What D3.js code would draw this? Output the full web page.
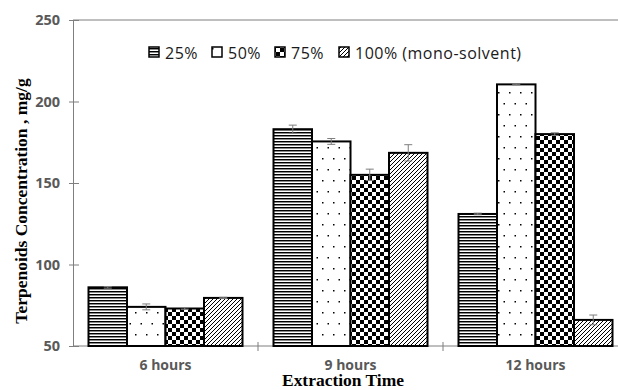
<!DOCTYPE html>
<html>
<head>
<meta charset="utf-8">
<script src="https://cdn.jsdelivr.net/npm/d3@7"></script>
<style>
  html, body { margin: 0; padding: 0; background: #fff; }
  svg { display: block; }
</style>
</head>
<body>
<svg id="chart" width="618" height="390"></svg>
<script>
// Extraction times on the x axis
const categories = ["6 hours", "9 hours", "12 hours"];
// Solvent ratios (legend entries)
const seriesNames = ["25%", "50%", "75%", "100% (mono-solvent)"];
// Terpenoids concentration, mg/g, one array per solvent ratio
const s25  = [86, 183, 131];
const s50  = [74, 175.5, 210.5];
const s75  = [73, 155, 180];
const s100 = [79.5, 168.5, 66];
// Standard-deviation error bars
const e25  = [0.5, 2.5, 0.5];
const e50  = [1.8, 1.8, 0.3];
const e75  = [0.5, 3.5, 0.8];
const e100 = [0.4, 5, 3];
const yTicks = [50, 100, 150, 200, 250];

const values = [s25, s50, s75, s100];
const errors = [e25, e50, e75, e100];

const svg = d3.select("#chart");
const plotLeft = 73, plotRight = 628, plotTop = 20, plotBottom = 346;

const x = d3.scaleBand().domain(categories).range([plotLeft, plotRight]);
const xs = d3.scaleBand().domain(seriesNames).range([15.5, x.bandwidth() - 15.5]);
const y = d3.scaleLinear().domain([50, 250]).range([plotBottom, plotTop]);

// Fill patterns for each series
const defs = svg.append("defs");
// 25%: horizontal stripes
const p0 = defs.append("pattern").attr("id", "pat0").attr("patternUnits", "userSpaceOnUse")
  .attr("width", 6).attr("height", 3);
p0.append("rect").attr("width", 6).attr("height", 3).attr("fill", "#fff");
p0.append("rect").attr("y", 0).attr("width", 6).attr("height", 1).attr("fill", "#000");
p0.append("rect").attr("y", 1).attr("width", 6).attr("height", 1).attr("fill", "#8a8a8a");
// 50%: sparse staggered dots
const p1 = defs.append("pattern").attr("id", "pat1").attr("patternUnits", "userSpaceOnUse")
  .attr("width", 11).attr("height", 22);
p1.append("rect").attr("width", 11).attr("height", 22).attr("fill", "#fff");
p1.append("rect").attr("x", 3).attr("y", 4).attr("width", 1.5).attr("height", 1.5).attr("fill", "#000");
p1.append("rect").attr("x", 8.5).attr("y", 15).attr("width", 1.5).attr("height", 1.5).attr("fill", "#000");
// 75%: checkerboard
const p2 = defs.append("pattern").attr("id", "pat2").attr("patternUnits", "userSpaceOnUse")
  .attr("width", 8).attr("height", 8);
p2.append("rect").attr("width", 8).attr("height", 8).attr("fill", "#fff");
p2.append("rect").attr("width", 4).attr("height", 4).attr("fill", "#000");
p2.append("rect").attr("x", 4).attr("y", 4).attr("width", 4).attr("height", 4).attr("fill", "#000");
// 100%: forward diagonal hatch
const p3 = defs.append("pattern").attr("id", "pat3").attr("patternUnits", "userSpaceOnUse")
  .attr("width", 4).attr("height", 4);
p3.append("rect").attr("width", 4).attr("height", 4).attr("fill", "#fff");
p3.append("path").attr("d", "M0,4 L4,0 M-1,1 L1,-1 M3,5 L5,3")
  .attr("stroke", "#000").attr("stroke-width", 1);

const grey = "#7f7f7f";

// Plot area top border
svg.append("line").attr("x1", plotLeft).attr("x2", plotRight).attr("y1", plotTop).attr("y2", plotTop)
  .attr("stroke", grey).attr("stroke-width", 1);

// Y axis
const yAxis = svg.append("g").attr("transform", `translate(${plotLeft},0)`)
  .call(d3.axisLeft(y).tickValues(yTicks).tickSizeInner(4).tickSizeOuter(0).tickPadding(9));
yAxis.select(".domain").attr("stroke", grey);
yAxis.selectAll(".tick line").attr("x1", -4).attr("x2", 6).attr("stroke", grey);
yAxis.selectAll(".tick text")
  .attr("font-family", "'Open Sans', sans-serif").attr("font-weight", "bold")
  .attr("font-size", 14.5).attr("fill", "#595959");

// X axis (category labels at band centres)
const xAxis = svg.append("g").attr("transform", `translate(0,${plotBottom})`)
  .call(d3.axisBottom(x).tickSize(0).tickPadding(14));
xAxis.select(".domain").remove();
xAxis.selectAll(".tick text")
  .attr("font-family", "'Open Sans', sans-serif").attr("font-weight", "bold")
  .attr("font-size", 14).attr("fill", "#595959");
svg.append("line").attr("x1", plotLeft).attr("x2", plotRight).attr("y1", plotBottom).attr("y2", plotBottom)
  .attr("stroke", grey);
// Tick marks between categories
svg.append("g").selectAll("line").data(categories.slice(1)).join("line")
  .attr("x1", d => x(d)).attr("x2", d => x(d))
  .attr("y1", plotBottom - 4).attr("y2", plotBottom + 5)
  .attr("stroke", grey);

// Bars
const rows = [];
seriesNames.forEach((s, si) => categories.forEach((c, ci) => {
  rows.push({ s, si, c, v: values[si][ci], e: errors[si][ci] });
}));

svg.append("g").selectAll("rect").data(rows).join("rect")
  .attr("x", d => x(d.c) + xs(d.s))
  .attr("y", d => y(d.v))
  .attr("width", xs.bandwidth())
  .attr("height", d => y(50) - y(d.v))
  .attr("fill", d => `url(#pat${d.si})`)
  .attr("stroke", "#000").attr("stroke-width", 2);

// Error bars
const eb = svg.append("g").attr("stroke", grey).attr("stroke-width", 1).attr("fill", "none");
eb.selectAll("path").data(rows).join("path")
  .attr("d", d => {
    const cx = x(d.c) + xs(d.s) + xs.bandwidth() / 2;
    const y1 = y(d.v + d.e), y2 = y(d.v - d.e);
    return `M${cx},${y1}V${y2}M${cx - 4},${y1}H${cx + 4}M${cx - 4},${y2}H${cx + 4}`;
  });

// Legend
const legendX = [149, 212, 275, 339];
const lg = svg.append("g");
seriesNames.forEach((s, i) => {
  lg.append("rect").attr("x", legendX[i]).attr("y", 47).attr("width", 10).attr("height", 10)
    .attr("fill", `url(#pat${i})`).attr("stroke", "#000").attr("stroke-width", 1.5);
  lg.append("text").attr("x", legendX[i] + 16).attr("y", 58.5)
    .attr("font-family", "'Open Sans', sans-serif").attr("font-size", 16)
    .attr("letter-spacing", 0.5)
    .attr("fill", "#1a1a1a").text(s);
});

// Axis titles
svg.append("text").attr("x", 343).attr("y", 386).attr("text-anchor", "middle")
  .attr("font-family", "'Liberation Serif', 'Times New Roman', serif").attr("font-weight", "bold")
  .attr("font-size", 16).attr("textLength", 122).attr("lengthAdjust", "spacingAndGlyphs")
  .attr("fill", "#000").text("Extraction Time");

svg.append("text").attr("transform", "translate(27,201) rotate(-90)").attr("text-anchor", "middle")
  .attr("font-family", "'Liberation Serif', 'Times New Roman', serif").attr("font-weight", "bold")
  .attr("font-size", 17.5).attr("fill", "#000").text("Terpenoids  Concentration , mg/g");
</script>
</body>
</html>
